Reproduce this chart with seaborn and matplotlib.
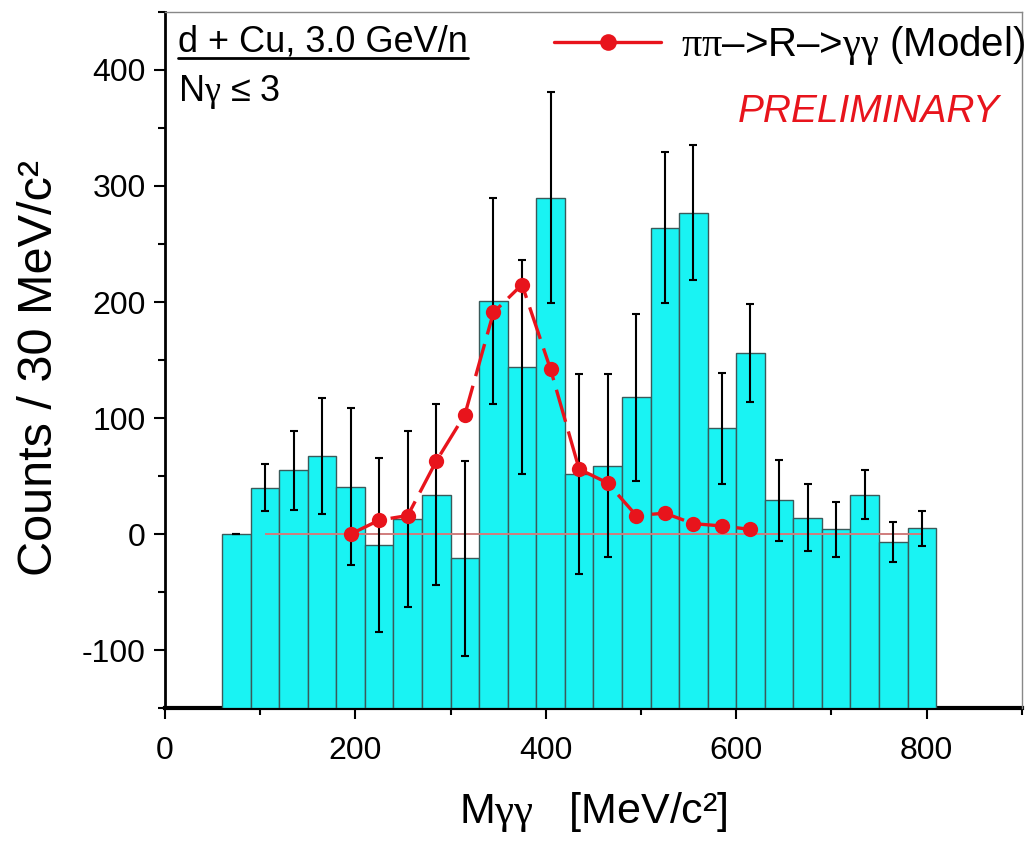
import numpy as np
import pandas as pd
import matplotlib
matplotlib.use("Agg")
import matplotlib.pyplot as plt
from matplotlib.ticker import MultipleLocator
from matplotlib.lines import Line2D
import seaborn as sns

# Diphoton invariant-mass spectrum, 30 MeV/c^2 bins from 60 to 810 MeV/c^2
bin_edges = np.arange(60, 811, 30)
counts = [0, 40, 55, 67, 41, -9, 13, 34, -21, 201, 144, 290, 52, 59,
          118, 264, 277, 91, 156, 29, 14, 4, 34, -7, 5]
count_errors = [0, 20, 34, 50, 68, 75, 76, 78, 84, 89, 92, 91, 86, 79,
                72, 65, 58, 48, 42, 35, 29, 24, 21, 17, 15]

# Model prediction pi pi -> R -> gamma gamma
model_mass = [195, 225, 255, 285, 315, 345, 375, 405, 435, 465, 495, 525, 555, 585, 615]
model_counts = [0, 12, 16, 63, 103, 191, 215, 142, 56, 44, 16, 18, 9, 7, 4]

x_ticks = [0, 200, 400, 600, 800]
y_ticks = [-100, 0, 100, 200, 300, 400]
y_floor, y_top = -150, 450

sns.set_style("white")
plt.rcParams["font.family"] = ["Liberation Sans", "DejaVu Sans"]
plt.rcParams["mathtext.fontset"] = "custom"
plt.rcParams["mathtext.rm"] = "Liberation Serif"
plt.rcParams["mathtext.it"] = "Liberation Serif"
plt.rcParams["axes.unicode_minus"] = False
plt.rcParams["text.color"] = "black"
plt.rcParams["axes.labelcolor"] = "black"
plt.rcParams["xtick.color"] = "black"
plt.rcParams["ytick.color"] = "black"

centers = (bin_edges[:-1] + bin_edges[1:]) / 2
spectrum = pd.DataFrame({"mass": centers, "counts": counts, "err": count_errors})
model = pd.DataFrame({"mass": model_mass, "counts": model_counts})

fig = plt.figure(figsize=(10.28, 8.42), dpi=100)
ax = fig.add_axes([0.1605, 0.159, 0.8335, 0.8268])

sns.histplot(data=spectrum, x="mass", weights="counts", binwidth=30,
             binrange=(bin_edges[0], bin_edges[-1]),
             color="#19f3f3", alpha=1.0, edgecolor="#3a5a5a", linewidth=1.0,
             ax=ax, zorder=1)
# Columns rise from the bottom of the frame rather than from zero
for bar in ax.patches:
    h = bar.get_height()
    bar.set_y(y_floor)
    bar.set_height(h - y_floor)

ax.errorbar(spectrum["mass"], spectrum["counts"], yerr=spectrum["err"],
            fmt="none", ecolor="black", elinewidth=1.5, capsize=3,
            capthick=1.5, zorder=3)

ax.hlines(0, 105, 795, color="#d07c7c", linewidth=1.4, zorder=2)

sns.lineplot(data=model, x="mass", y="counts", color="#e8141c",
             marker="o", markersize=11, markeredgewidth=0, linewidth=2.4,
             ax=ax, zorder=4)
model_line = ax.lines[-1]
model_line.set_dashes([10, 3])

ax.set_xlim(0, 900)
ax.set_ylim(y_floor, y_top)
ax.set_xticks(x_ticks)
ax.set_yticks(y_ticks)
ax.xaxis.set_minor_locator(MultipleLocator(100))
ax.yaxis.set_minor_locator(MultipleLocator(50))
ax.tick_params(axis="both", which="both", bottom=True, left=True,
               top=False, right=False)
ax.tick_params(axis="both", which="major", direction="out", length=8,
               width=1.5, labelsize=23, color="black", pad=6)
ax.tick_params(axis="both", which="minor", direction="out", length=5,
               width=1.5, color="black")
ax.tick_params(axis="x", which="major", pad=12)
for side in ("top", "right"):
    ax.spines[side].set_color("#888888")
    ax.spines[side].set_linewidth(1.0)
ax.spines["left"].set_color("black")
ax.spines["left"].set_linewidth(2.0)
ax.spines["bottom"].set_color("black")
ax.spines["bottom"].set_linewidth(3.0)
ax.spines["bottom"].set_zorder(0.5)

ax.set_xlabel(r"M$\mathrm{\gamma\gamma}$   [MeV/c²]", fontsize=31)
ax.xaxis.set_label_coords(0.5, -0.118)
ax.set_ylabel("Counts / 30 MeV/c²", fontsize=35)
ax.yaxis.label.set_va("center")
ax.yaxis.set_label_coords(-0.146, 0.488)

# Reaction and selection annotations
title = ax.text(0.015, 0.9425, "d + Cu, 3.0 GeV/n", transform=ax.transAxes,
                fontsize=26, va="baseline", ha="left")
ax.text(0.015, 0.872, r"N$\mathrm{\gamma}$ ≤ 3", transform=ax.transAxes,
        fontsize=26, va="baseline", ha="left")
fig.canvas.draw()
bb = title.get_window_extent().transformed(ax.transAxes.inverted())
ax.add_line(Line2D([bb.x0, bb.x1], [0.934, 0.934],
                   transform=ax.transAxes, color="black", linewidth=2.0))

ax.text(0.974, 0.842, "PRELIMINARY", transform=ax.transAxes, fontsize=28,
        style="italic", color="#e8141c", ha="right", va="baseline")

handle = Line2D([], [], color="#e8141c", marker="o", markersize=12,
                markeredgewidth=0, linewidth=2.4)
ax.legend([handle], [r"$\mathrm{\pi\pi}$–>R–>$\mathrm{\gamma\gamma}$ (Model)"],
          loc="upper right", bbox_to_anchor=(1.004, 0.982), frameon=False,
          fontsize=29, handlelength=2.65, handletextpad=0.5,
          borderaxespad=0.0, borderpad=0.0)

fig.savefig("out.png", dpi=100)
